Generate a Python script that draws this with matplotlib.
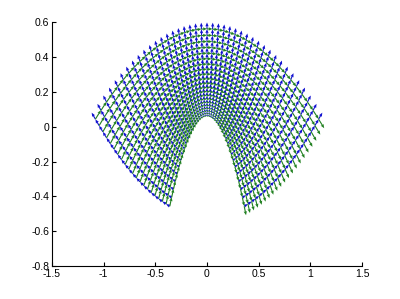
import numpy as np
import matplotlib
matplotlib.use("Agg")
import matplotlib.pyplot as plt

# parametric grid (z = u + i v, mapped by w = z^2, rotated)
u_min, u_max, n_u = 0.25, 0.75, 21
v_min, v_max, n_v = -0.72, 0.72, 41
x_ticks = [-1.5, -1, -0.5, 0, 0.5, 1, 1.5]
x_labels = ["-1.5", "-1", "-0.5", "0", "0.5", "1", "1.5"]
y_ticks = [-0.8, -0.6, -0.4, -0.2, 0, 0.2, 0.4, 0.6]
y_labels = ["-0.8", "-0.6", "-0.4", "-0.2", "0", "0.2", "0.4", "0.6"]

u = np.linspace(u_min, u_max, n_u)
v = np.linspace(v_min, v_max, n_v)
U, V = np.meshgrid(u, v)
X = 2 * U * V
Y = U**2 - V**2
du = u[1] - u[0]
dv = v[1] - v[0]
# tangent vectors
Xu, Yu = 2 * V * du, 2 * U * du
Xv, Yv = 2 * U * dv, -2 * V * dv

plt.rcParams['font.family'] = ['Liberation Sans', 'DejaVu Sans']
fig = plt.figure(figsize=(4.0, 2.99), dpi=100)
ax = fig.add_axes([0.13, 0.11, 0.775, 0.815])

kw = dict(angles='xy', scale_units='xy', scale=1.0, width=0.0036,
          headwidth=3.0, headlength=3.6, headaxislength=3.2)
ax.quiver(X, Y, Xu, Yu, color='#1010d0', **kw)
ax.quiver(X, Y, Xv, Yv, color='#208020', **kw)

ax.set_xlim(-1.5, 1.5)
ax.set_ylim(-0.8, 0.6)
ax.set_xticks(x_ticks)
ax.set_xticklabels(x_labels)
ax.set_yticks(y_ticks)
ax.set_yticklabels(y_labels)
for s in ['top', 'right']:
    ax.spines[s].set_visible(False)
for s in ['left', 'bottom']:
    ax.spines[s].set_linewidth(0.8)
ax.tick_params(direction='in', length=3, width=0.8, labelsize=7.5, pad=2)

fig.savefig("out.png", dpi=100)
